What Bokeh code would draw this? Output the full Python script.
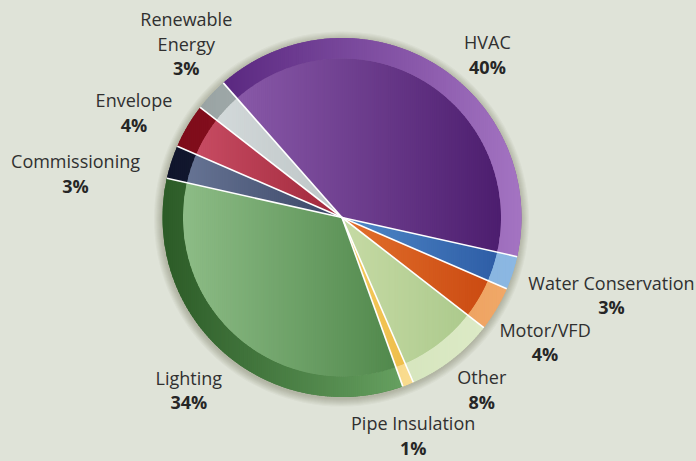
import math
import numpy as np
from bokeh.plotting import figure
from bokeh.models import Range1d, ColumnDataSource
from bokeh.embed import file_html
from bokeh.resources import INLINE
from bokeh.core.properties import value

# ---------------- data ----------------
categories = ["HVAC", "Water Conservation", "Motor/VFD", "Other", "Pipe Insulation",
              "Lighting", "Commissioning", "Envelope", "Renewable Energy"]
shares = [40, 3, 4, 8, 1, 34, 3, 4, 3]
name_lines = [["HVAC"], ["Water Conservation"], ["Motor/VFD"], ["Other"], ["Pipe Insulation"],
              ["Lighting"], ["Commissioning"], ["Envelope"], ["Renewable", "Energy"]]
pct_labels = [f"{s}%" for s in shares]

# ---------------- styles ----------------
inner_left = ["#8c5cab", "#5089c8", "#e2702c", "#c6daa4", "#f5cb60", "#93c18c", "#6c7a9a", "#cc5068", "#d6dcdd"]
inner_right = ["#48196a", "#2a58a2", "#c8460f", "#a9c88a", "#eebc48", "#4f874a", "#3a4565", "#a0283a", "#bcc4c5"]
ring_left = ["#5a2880", "#7eaadc", "#e89550", "#d2e2b8", "#f6d27a", "#2c5b27", "#10152c", "#7e0c1a", "#9aa4a4"]
ring_right = ["#a474c2", "#8cb8e2", "#f0a868", "#dceac6", "#f9dc90", "#66a060", "#1c2238", "#901424", "#a8b2b2"]
label_nudge = [(36, 10), (65, -1), (18, 3), (8, -10), (-8, 6), (-11, -1), (-62, 10), (-23, -8), (1, -51)]

BG = "#dfe3d8"
W, H = 696, 461
PAGE_H = 461
CX, CY = 341.5, PAGE_H - 217.0
R_OUT, R_IN = 179.5, 159.0
START_DEG = 131.4
R_LABEL = 215.0
LINE_STEP = 24.5
BASE_SHIFT = 0.0   # baseline offset from cap centre (data units)


def hex2rgb(h):
    h = h.lstrip("#")
    return tuple(int(h[i:i + 2], 16) for i in (0, 2, 4))


def mix(c1, c2, t):
    a, b = hex2rgb(c1), hex2rgb(c2)
    return "#%02x%02x%02x" % tuple(int(round(a[i] + (b[i] - a[i]) * t)) for i in range(3))


def clip_poly(pts, x0, x1):
    def clip(points, keep, xb):
        out = []
        n = len(points)
        for i in range(n):
            p, q = points[i], points[(i + 1) % n]
            pin, qin = keep(p[0]), keep(q[0])
            if pin:
                out.append(p)
            if pin != qin:
                t = (xb - p[0]) / (q[0] - p[0])
                out.append((xb, p[1] + t * (q[1] - p[1])))
        return out
    pts = clip(pts, lambda x: x >= x0, x0)
    if not pts:
        return pts
    pts = clip(pts, lambda x: x <= x1, x1)
    return pts


def arc(r, a0, a1, n):
    angs = np.linspace(a0, a1, n)
    return [(CX + r * math.cos(a), CY + r * math.sin(a)) for a in angs]


# angles (clockwise from START_DEG)
total = float(sum(shares))
starts, ends = [], []
cur = math.radians(START_DEG)
for s in shares:
    sweep = 2 * math.pi * s / total
    starts.append(cur)
    ends.append(cur - sweep)
    cur -= sweep

p = figure(width=W, height=H, output_backend="svg", toolbar_location=None,
           x_range=Range1d(0, W), y_range=Range1d(PAGE_H - H, PAGE_H),
           min_border=0, outline_line_color=None,
           background_fill_color=BG, border_fill_color=BG)
p.axis.visible = False
p.xgrid.visible = False
p.ygrid.visible = False

# soft shadow
for k in range(8, 0, -1):
    p.circle(x=[CX - 0.5], y=[CY - 1.5], radius=R_OUT + k, fill_color="#2f3826",
             fill_alpha=0.035, line_color=None)

# base wedges
src = ColumnDataSource(dict(start=[e for e in ends], end=[s for s in starts],
                            inner=[mix(a, b, 0.5) for a, b in zip(inner_left, inner_right)],
                            ring=[mix(a, b, 0.5) for a, b in zip(ring_left, ring_right)]))
p.annular_wedge(x=CX, y=CY, inner_radius=R_IN, outer_radius=R_OUT, start_angle="start",
                end_angle="end", fill_color="ring", line_color=None, source=src)
p.wedge(x=CX, y=CY, radius=R_IN, start_angle="start", end_angle="end",
        fill_color="inner", line_color=None, source=src)

# horizontal gradients via vertical strips
xs_all, ys_all, cols = [], [], []
for i in range(len(shares)):
    a0, a1 = starts[i], ends[i]
    npt = max(4, int(abs(a0 - a1) * 180 / math.pi) + 2)
    outer = arc(R_OUT, a0, a1, npt)
    inner = arc(R_IN, a1, a0, npt)
    ring_poly = outer + inner
    wedge_poly = [(CX, CY)] + arc(R_IN, a0, a1, npt)
    xs_b = [q[0] for q in ring_poly] + [CX]
    xmin, xmax = min(xs_b), max(xs_b)
    nstrip = max(2, int(math.ceil((xmax - xmin) / 2.0)))
    edges = np.linspace(xmin, xmax, nstrip + 1)
    for k in range(nstrip):
        x0, x1 = edges[k], edges[k + 1]
        t = (0.5 * (x0 + x1) - xmin) / (xmax - xmin)
        for poly, cl, cr in ((wedge_poly, inner_left[i], inner_right[i]),
                             (ring_poly, ring_left[i], ring_right[i])):
            c = clip_poly(poly, x0, x1 + 0.7)
            if len(c) >= 3:
                xs_all.append([q[0] for q in c])
                ys_all.append([q[1] for q in c])
                cols.append(mix(cl, cr, t))
p.patches(xs="xs", ys="ys", fill_color="c", line_color=None,
          source=ColumnDataSource(dict(xs=xs_all, ys=ys_all, c=cols)))

# white separators
sep_x0, sep_y0, sep_x1, sep_y1 = [], [], [], []
for a in starts:
    sep_x0.append(CX)
    sep_y0.append(CY)
    sep_x1.append(CX + R_OUT * math.cos(a))
    sep_y1.append(CY + R_OUT * math.sin(a))
p.segment(x0=sep_x0, y0=sep_y0, x1=sep_x1, y1=sep_y1, line_color="white", line_width=1.6)

# labels
nx, ny, nt, px_, py_, pt = [], [], [], [], [], []
for i in range(len(shares)):
    mid = 0.5 * (starts[i] + ends[i])
    ax = CX + R_LABEL * math.cos(mid) + label_nudge[i][0]
    ay = CY + R_LABEL * math.sin(mid) - label_nudge[i][1]
    base = ay - BASE_SHIFT
    for j, ln in enumerate(name_lines[i]):
        nx.append(ax)
        ny.append(base - j * LINE_STEP)
        nt.append(ln)
    px_.append(ax)
    py_.append(base - len(name_lines[i]) * LINE_STEP)
    pt.append(pct_labels[i])

p.text(x=nx, y=ny, text=nt, text_font=value("Open Sans"), text_font_size="18px",
       text_align="center", text_baseline="alphabetic", text_color="#303030")
p.text(x=px_, y=py_, text=pt, text_font=value("Open Sans"), text_font_size="18px",
       text_font_style="bold", text_align="center", text_baseline="alphabetic",
       text_color="#262626")

html = file_html(p, INLINE)
html = html.replace("<head>", "<head><style>html,body{background:%s;}</style>" % BG, 1)
open("out.html", "w").write(html)
